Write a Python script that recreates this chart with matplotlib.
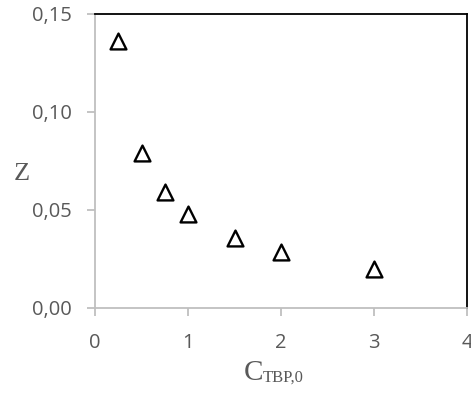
import matplotlib
matplotlib.use("Agg")
import matplotlib.pyplot as plt

c_tbp = [0.25, 0.5, 0.75, 1.0, 1.5, 2.0, 3.0]
z_vals = [0.136, 0.079, 0.059, 0.048, 0.0355, 0.0285, 0.020]
x_ticks = [0, 1, 2, 3, 4]
y_ticks = [0.00, 0.05, 0.10, 0.15]
y_labels = ["0,00", "0,05", "0,10", "0,15"]

fig = plt.figure(figsize=(4.71, 4.0), dpi=100)
ax = fig.add_axes([95/471, 1-308/400, (467-95)/471, (308-14)/400])

ax.scatter(c_tbp, z_vals, marker="^", s=130, facecolors="white",
           edgecolors="black", linewidths=1.7, zorder=3)

ax.set_xlim(0, 4)
ax.set_ylim(0, 0.15)
ax.set_xticks(x_ticks)
ax.set_xticklabels([str(t) for t in x_ticks])
ax.set_yticks(y_ticks)
ax.set_yticklabels(y_labels)

grey = "#BFBFBF"
for s in ["left", "bottom"]:
    ax.spines[s].set_color(grey)
    ax.spines[s].set_linewidth(1.3)
for s in ["top", "right"]:
    ax.spines[s].set_color("black")
    ax.spines[s].set_linewidth(1.3)

ax.tick_params(axis="both", direction="out", length=6, width=1.3, color=grey,
               labelcolor="#595959", labelsize=14.5)
for lab in ax.get_xticklabels() + ax.get_yticklabels():
    lab.set_fontfamily("Open Sans")
ax.tick_params(axis="x", pad=12)
ax.tick_params(axis="y", pad=11)

fig.text(22/471, 1-174/400, "Z", family="Liberation Serif", fontsize=19,
         color="#595959", ha="center", va="center")
fig.text(263/471, 1-380/400, "C", family="Liberation Serif", fontsize=21,
         color="#595959", ha="right", va="baseline")
fig.text(263/471, 1-382/400, "TBP,0", family="Liberation Serif", fontsize=12,
         color="#595959", ha="left", va="baseline")

fig.savefig("out.png", dpi=100)
